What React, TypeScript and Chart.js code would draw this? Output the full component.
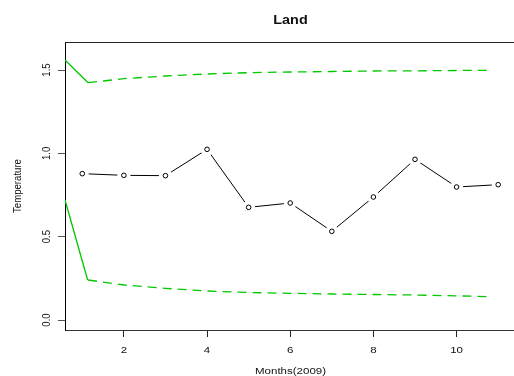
import React, { useEffect, useRef } from "react";
import { Chart, registerables } from "chart.js";

Chart.register(...registerables);

const TITLE = "Land";
const X_LABEL = "Months(2009)";
const Y_LABEL = "Temperature";

const months = [1, 2, 3, 4, 5, 6, 7, 8, 9, 10, 11];
const temperature = [0.878, 0.868, 0.866, 1.024, 0.676, 0.702, 0.532, 0.738, 0.964, 0.798, 0.812];

const upperSolidX = [0.585, 1.14];
const upperSolidY = [1.56, 1.424];
const lowerSolidX = [0.585, 1.13];
const lowerSolidY = [0.72, 0.24];

const boundDashX = [1.14, 2, 3, 4, 5, 6, 7, 8, 9, 10, 10.8];
const upperDashY = [1.424, 1.448, 1.464, 1.476, 1.484, 1.488, 1.491, 1.494, 1.495, 1.497, 1.498];
const lowerDashY = [0.24, 0.21, 0.19, 0.174, 0.165, 0.16, 0.156, 0.153, 0.15, 0.145, 0.14];

const xTicks = [2, 4, 6, 8, 10];
const yTicks = [0, 0.5, 1, 1.5];
const yTickLabels = ["0.0", "0.5", "1.0", "1.5"];

const GREEN = "#00c800";
const SX = 1.2;

const pts = (xs: number[], ys: number[]) => xs.map((x, i) => ({ x, y: ys[i] }));

function drawText(ctx: CanvasRenderingContext2D, text: string, x: number, y: number, font: string, rotate: boolean) {
  ctx.save();
  ctx.translate(x, y);
  ctx.scale(SX, 1);
  if (rotate) ctx.rotate(-Math.PI / 2);
  ctx.font = font;
  ctx.fillStyle = "#111";
  ctx.textAlign = "center";
  ctx.textBaseline = "middle";
  ctx.fillText(text, 0, 0);
  ctx.restore();
}

const textPlugin = {
  id: "rtext",
  afterDraw(chart: any) {
    const ctx = chart.ctx as CanvasRenderingContext2D;
    const { chartArea, scales } = chart;
    const xs = scales.x;
    const ys = scales.y;
    ctx.save();
    ctx.strokeStyle = "#222";
    ctx.lineWidth = 1;
    ctx.beginPath();
    ctx.moveTo(chartArea.left, chartArea.top + 0.5);
    ctx.lineTo(chartArea.right, chartArea.top + 0.5);
    ctx.stroke();
    ctx.restore();

    const fam = "'Liberation Sans', Arial, sans-serif";
    const cx = 290.5;
    drawText(ctx, TITLE, cx, 21, `bold 12px ${fam}`, false);
    xTicks.forEach((t) => {
      drawText(ctx, String(t), xs.getPixelForValue(t), 350, `9.6px ${fam}`, false);
    });
    yTicks.forEach((t, i) => {
      drawText(ctx, yTickLabels[i], 46.5, ys.getPixelForValue(t), `9.6px ${fam}`, true);
    });
    drawText(ctx, X_LABEL, cx, 371.5, `9.6px ${fam}`, false);
    drawText(ctx, Y_LABEL, 17.5, (chartArea.top + chartArea.bottom) / 2, `9.6px ${fam}`, true);
  },
};

export default function App() {
  const ref = useRef<HTMLCanvasElement>(null);
  useEffect(() => {
    if (!ref.current) return;
    const mainPts = pts(months, temperature);
    const chart = new Chart(ref.current, {
      type: "line",
      data: {
        datasets: [
          {
            data: mainPts,
            borderColor: "transparent",
            backgroundColor: "#fff",
            borderWidth: 1,
            pointRadius: 2.3,
            pointBorderColor: "#000",
            pointBackgroundColor: "#fff",
            showLine: false,
            order: 0,
          },
          {
            data: mainPts,
            borderColor: "transparent",
            pointRadius: 6.5,
            pointBorderWidth: 0,
            pointBackgroundColor: "#fff",
            pointBorderColor: "#fff",
            showLine: false,
            order: 1,
          },
          {
            data: mainPts,
            borderColor: "#000",
            borderWidth: 1,
            pointRadius: 0,
            tension: 0,
            order: 2,
          },
          {
            data: pts(upperSolidX, upperSolidY),
            borderColor: GREEN,
            borderWidth: 1.3,
            pointRadius: 0,
            order: 3,
          },
          {
            data: pts(lowerSolidX, lowerSolidY),
            borderColor: GREEN,
            borderWidth: 1.3,
            pointRadius: 0,
            order: 3,
          },
          {
            data: pts(boundDashX, upperDashY),
            borderColor: GREEN,
            borderWidth: 1.3,
            borderDash: [9, 6],
            pointRadius: 0,
            order: 3,
          },
          {
            data: pts(boundDashX, lowerDashY),
            borderColor: GREEN,
            borderWidth: 1.3,
            borderDash: [9, 6],
            pointRadius: 0,
            order: 3,
          },
        ],
      },
      options: {
        animation: false,
        responsive: false,
        events: [],
        layout: { autoPadding: false, padding: { top: 42, left: 0, right: 0, bottom: 0 } },
        plugins: { legend: { display: false }, tooltip: { enabled: false }, title: { display: false } },
        scales: {
          x: {
            type: "linear",
            min: 0.585,
            max: 11.38,
            afterBuildTicks: (s: any) => {
              s.ticks = xTicks.map((v) => ({ value: v }));
            },
            afterFit: (s: any) => {
              s.height = 46;
            },
            ticks: { display: false },
            grid: { drawOnChartArea: false, drawTicks: true, tickLength: 7, color: "#222", lineWidth: 1 },
            border: { display: true, color: "#333", width: 1 },
          },
          y: {
            type: "linear",
            min: -0.06,
            max: 1.668,
            afterBuildTicks: (s: any) => {
              s.ticks = yTicks.map((v) => ({ value: v }));
            },
            afterFit: (s: any) => {
              s.width = 65;
            },
            ticks: { display: false },
            grid: { drawOnChartArea: false, drawTicks: true, tickLength: 7, color: "#555", lineWidth: 1 },
            border: { display: true, color: "#000", width: 1 },
          },
        },
      },
      plugins: [textPlugin],
    } as any);
    return () => chart.destroy();
  }, []);
  return (
    <div style={{ position: "absolute", left: 0, top: 0, width: 514, height: 376, background: "#fff" }}>
      <canvas ref={ref} width={514} height={376} />
    </div>
  );
}
